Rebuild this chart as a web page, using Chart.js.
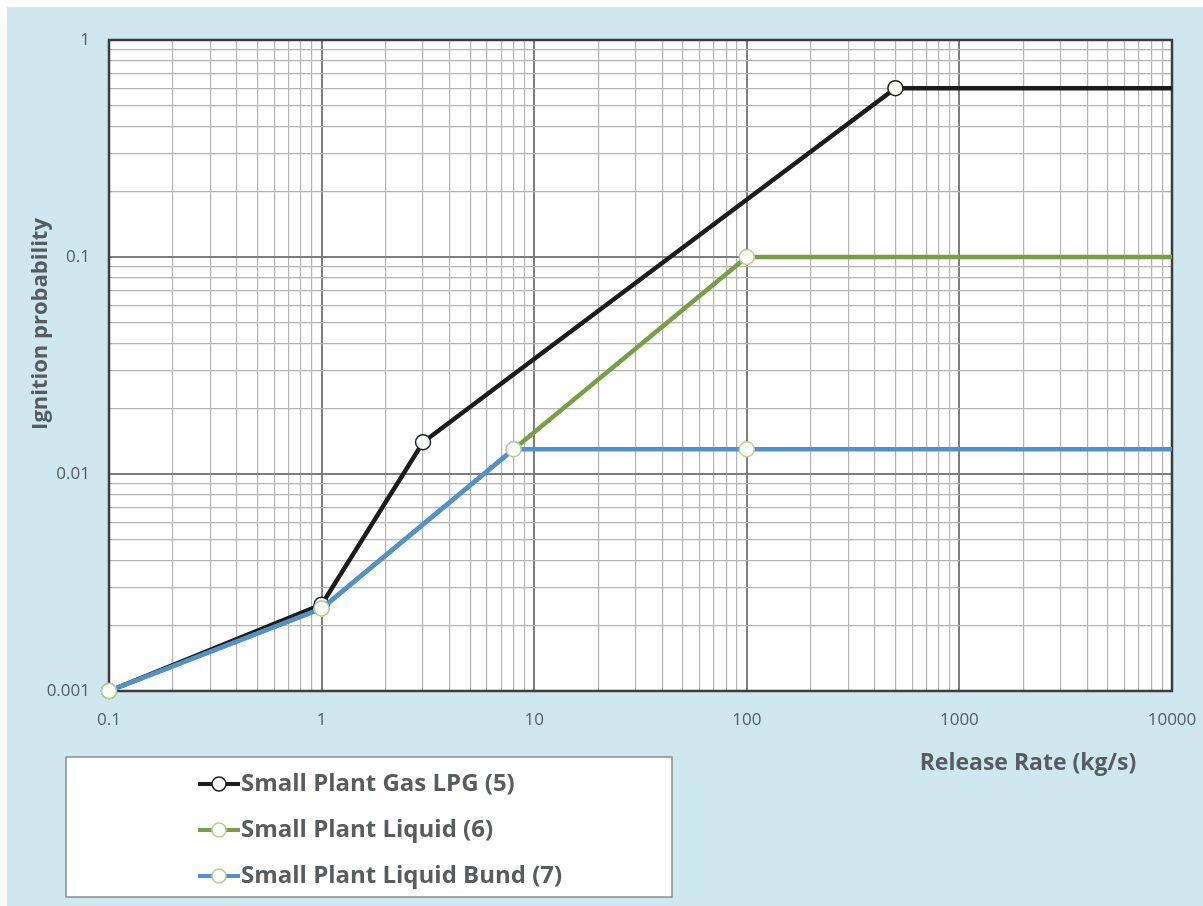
<!DOCTYPE html>
<html>
<head>
<meta charset="utf-8">
<title>Ignition probability vs release rate</title>
<script src="https://cdn.jsdelivr.net/npm/chart.js@4/dist/chart.umd.min.js"></script>
<style>
  html, body { margin: 0; padding: 0; background: #fff; }
  #wrap { width: 1203px; height: 906px; }
</style>
</head>
<body>
<div id="wrap"><canvas id="ignitionChart" width="1203" height="906"></canvas></div>
<script>
// values
const xTickLabels = [0.1, 1, 10, 100, 1000, 10000];
const yTickLabels = [0.001, 0.01, 0.1, 1];

const seriesNames = ["Small Plant Gas LPG (5)", "Small Plant Liquid (6)", "Small Plant Liquid Bund (7)"];

const gasRate = [0.1, 1, 3, 500, 10000];
const gasProb = [0.001, 0.0025, 0.014, 0.6, 0.6];

const liquidRate = [0.1, 1, 8, 100, 10000];
const liquidProb = [0.001, 0.0024, 0.013, 0.1, 0.1];

const bundRate = [0.1, 1, 8, 100, 10000];
const bundProb = [0.001, 0.0024, 0.013, 0.013, 0.013];

const xTitle = "Release Rate (kg/s)";
const yTitle = "Ignition probability";

const textColor = "#565c60";
const fontName = "'Open Sans', Lato, sans-serif";

function toPoints(xs, ys) {
  return xs.map((x, i) => ({ x: x, y: ys[i] }));
}

// gridlines at 1..9 x every decade, labels only on the decades
function logTicks(decades) {
  const ticks = [];
  for (let i = 0; i < decades.length - 1; i++) {
    ticks.push({ value: decades[i], major: true });
    for (let m = 2; m <= 9; m++) ticks.push({ value: m * decades[i], major: false });
  }
  ticks.push({ value: decades[decades.length - 1], major: true });
  return ticks;
}

function isDecade(list, v) {
  return list.some((t) => Math.abs(t - v) / t < 1e-9);
}

function series(label, xs, ys, color, markerBorder, order) {
  return {
    label: label,
    data: toPoints(xs, ys),
    borderColor: color,
    backgroundColor: color,
    borderWidth: 4.5,
    pointRadius: xs.map((x, i) => (i === xs.length - 1 ? 0 : 7.5)),
    pointBackgroundColor: "#fbfdf7",
    pointBorderColor: markerBorder,
    pointBorderWidth: 1.5,
    tension: 0,
    clip: false,
    order: order,
  };
}

const decor = {
  id: "decor",
  beforeDraw(chart) {
    const ctx = chart.ctx;
    const a = chart.chartArea;
    ctx.save();
    ctx.fillStyle = "#fff";
    ctx.fillRect(0, 0, chart.width, chart.height);
    ctx.fillStyle = "#cfe8ef";
    ctx.fillRect(7, 7, chart.width - 7, chart.height - 7);
    ctx.fillStyle = "#fff";
    ctx.fillRect(a.left, a.top, a.right - a.left, a.bottom - a.top);
    ctx.restore();
  },
  beforeDatasetsDraw(chart) {
    const ctx = chart.ctx;
    const a = chart.chartArea;
    ctx.save();
    ctx.strokeStyle = "#3c3c3c";
    ctx.lineWidth = 2.5;
    ctx.strokeRect(a.left, a.top, a.right - a.left, a.bottom - a.top);
    ctx.restore();
  },
  afterDraw(chart) {
    const ctx = chart.ctx;
    ctx.save();
    ctx.fillStyle = textColor;
    ctx.textBaseline = "middle";

    // axis titles
    ctx.textAlign = "center";
    ctx.font = "bold 23px " + fontName;
    ctx.fillText(xTitle, 1028, 763);
    ctx.save();
    ctx.translate(41, 324);
    ctx.rotate(-Math.PI / 2);
    ctx.font = "bold 22px " + fontName;
    ctx.fillText(yTitle, 0, 0);
    ctx.restore();

    // legend box
    ctx.fillStyle = "#fff";
    ctx.fillRect(66, 757, 606, 140);
    ctx.strokeStyle = "#8c8c8c";
    ctx.lineWidth = 1.5;
    ctx.strokeRect(66, 757, 606, 140);

    ctx.font = "bold 24px " + fontName;
    const rows = [784, 830, 876];
    chart.data.datasets.forEach((ds, i) => {
      const y = rows[i];
      ctx.strokeStyle = ds.borderColor;
      ctx.lineWidth = 4;
      ctx.beginPath();
      ctx.moveTo(198, y);
      ctx.lineTo(240, y);
      ctx.stroke();
      ctx.beginPath();
      ctx.arc(219, y, 7, 0, Math.PI * 2);
      ctx.fillStyle = ds.pointBackgroundColor;
      ctx.fill();
      ctx.lineWidth = 1.5;
      ctx.strokeStyle = ds.pointBorderColor;
      ctx.stroke();
      ctx.fillStyle = textColor;
      ctx.textAlign = "left";
      ctx.fillText(ds.label, 241, y);
    });
    ctx.restore();
  },
};

const ctxChart = document.getElementById("ignitionChart").getContext("2d");
const ignitionChart = new Chart(ctxChart, {
  type: "line",
  data: {
    datasets: [
      series(seriesNames[0], gasRate, gasProb, "#1c1c1c", "#222", 3),
      series(seriesNames[1], liquidRate, liquidProb, "#76a043", "#b9cf95", 2),
      series(seriesNames[2], bundRate, bundProb, "#5091d0", "#b9cf95", 1),
    ],
  },
  options: {
    responsive: false,
    animation: false,
    layout: { padding: { top: 40, right: 31, left: 0, bottom: 0 } },
    plugins: {
      legend: { display: false },
      tooltip: { enabled: false },
    },
    scales: {
      x: {
        type: "logarithmic",
        min: xTickLabels[0],
        max: xTickLabels[xTickLabels.length - 1],
        afterBuildTicks: (scale) => { scale.ticks = logTicks(xTickLabels); },
        afterFit: (scale) => {
          scale.height = 215;
          scale.paddingLeft = 0;
          scale.paddingRight = 0;
        },
        grid: {
          drawTicks: false,
          color: (c) => (c.tick && isDecade(xTickLabels, c.tick.value) ? "#7e7e7e" : "#b4b4b4"),
          lineWidth: (c) => (c.tick && isDecade(xTickLabels, c.tick.value) ? 2 : 1.2),
        },
        border: { display: false },
        ticks: {
          autoSkip: false,
          maxRotation: 0,
          padding: 19,
          color: textColor,
          font: { family: fontName, size: 17 },
          callback: (v) => (isDecade(xTickLabels, v) ? String(v) : ""),
        },
      },
      y: {
        type: "logarithmic",
        min: yTickLabels[0],
        max: yTickLabels[yTickLabels.length - 1],
        afterBuildTicks: (scale) => { scale.ticks = logTicks(yTickLabels); },
        afterFit: (scale) => {
          scale.width = 109;
          scale.paddingTop = 0;
          scale.paddingBottom = 0;
        },
        grid: {
          drawTicks: false,
          color: (c) => (c.tick && isDecade(yTickLabels, c.tick.value) ? "#7e7e7e" : "#b4b4b4"),
          lineWidth: (c) => (c.tick && isDecade(yTickLabels, c.tick.value) ? 2 : 1.2),
        },
        border: { display: false },
        ticks: {
          autoSkip: false,
          padding: 19,
          color: textColor,
          font: { family: fontName, size: 17 },
          callback: (v) => (isDecade(yTickLabels, v) ? String(v) : ""),
        },
      },
    },
  },
  plugins: [decor],
});
</script>
</body>
</html>
